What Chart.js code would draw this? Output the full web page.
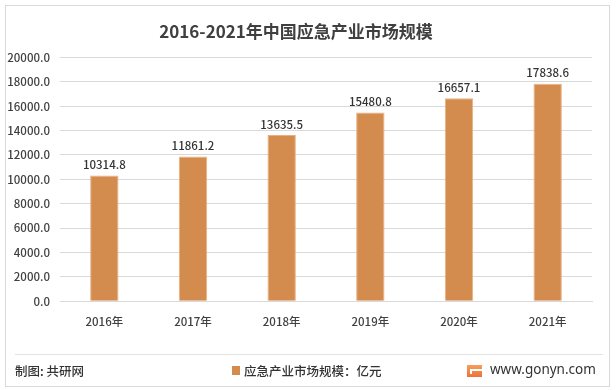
<!DOCTYPE html>
<html lang="zh">
<head>
    <meta charset="UTF-8">
    <title>2016-2021年中国应急产业市场规模</title>
    <script src="https://cdn.jsdelivr.net/npm/chart.js"></script>
    <style>
        html, body { margin: 0; padding: 0; background: #fff; }
        .wrap { width: 616px; height: 390px; position: relative; }
    </style>
</head>
<body>
    <div class="wrap">
        <canvas id="marketChart" width="616" height="390"></canvas>
    </div>

    <script>
        // chart data
        const years = ['2016年', '2017年', '2018年', '2019年', '2020年', '2021年'];
        const marketSize = [10314.8, 11861.2, 13635.5, 15480.8, 16657.1, 17838.6];
        const yTicks = [0, 2000, 4000, 6000, 8000, 10000, 12000, 14000, 16000, 18000, 20000];
        const seriesName = '应急产业市场规模：亿元';
        const chartTitle = '2016-2021年中国应急产业市场规模';

        const barColor = '#D38B4E';
        const cjkFont = '"Noto Sans CJK SC", "Noto Sans", sans-serif';

        // value labels above bars
        const valueLabels = {
            id: 'valueLabels',
            afterDatasetsDraw(chart) {
                const ctx = chart.ctx;
                const meta = chart.getDatasetMeta(0);
                ctx.save();
                ctx.font = '500 11.5px ' + cjkFont;
                ctx.fillStyle = '#333333';
                ctx.textAlign = 'center';
                ctx.textBaseline = 'bottom';
                meta.data.forEach((bar, i) => {
                    ctx.fillText(marketSize[i].toFixed(1), bar.x, bar.y - 5);
                });
                ctx.restore();
            }
        };

        // outer frame, footer line, source, legend and site mark
        const frameAndFooter = {
            id: 'frameAndFooter',
            afterDraw(chart) {
                const ctx = chart.ctx;
                ctx.save();
                ctx.strokeStyle = '#D9D9D9';
                ctx.lineWidth = 1;
                ctx.strokeRect(5.5, 5.5, 604, 381);

                ctx.beginPath();
                ctx.moveTo(15, 354.5);
                ctx.lineTo(603, 354.5);
                ctx.strokeStyle = '#E3E3E3';
                ctx.stroke();

                ctx.fillStyle = '#333333';
                ctx.font = '500 12.5px ' + cjkFont;
                ctx.textBaseline = 'middle';
                ctx.textAlign = 'left';
                ctx.fillText('制图: 共研网', 15, 371);

                ctx.fillStyle = barColor;
                ctx.fillRect(232, 366, 8, 9);
                ctx.fillStyle = '#333333';
                ctx.fillText(seriesName, 244, 371);

                // little logo
                const g = ctx.createLinearGradient(467, 364, 467, 378);
                g.addColorStop(0, '#F7A35C');
                g.addColorStop(1, '#EE6A3A');
                ctx.fillStyle = g;
                ctx.fillRect(467, 365, 15, 12);
                ctx.fillStyle = '#fff';
                ctx.fillRect(470, 369, 12, 2);
                ctx.fillRect(470, 371, 2, 3);

                ctx.fillStyle = '#333';
                ctx.font = '13.5px "Noto Sans", sans-serif';
                ctx.fillText('www.gonyn.com', 490, 370);
                ctx.restore();
            }
        };

        new Chart(document.getElementById('marketChart'), {
            type: 'bar',
            data: {
                labels: years,
                datasets: [{
                    label: seriesName,
                    data: marketSize,
                    backgroundColor: barColor,
                    borderColor: '#E9B07E',
                    borderWidth: 1,
                    barPercentage: 0.32,
                    categoryPercentage: 1
                }]
            },
            options: {
                responsive: false,
                animation: false,
                layout: { padding: { left: 0, right: 24, top: 0, bottom: 55 } },
                plugins: {
                    legend: { display: false },
                    tooltip: { enabled: false },
                    title: {
                        display: true,
                        text: chartTitle,
                        color: '#404040',
                        font: { family: cjkFont, size: 17, weight: 'bold' },
                        padding: { top: 21, bottom: 16 }
                    }
                },
                scales: {
                    x: {
                        grid: { display: false },
                        border: { color: '#D9D9D9' },
                        ticks: {
                            color: '#404040',
                            font: { family: cjkFont, size: 11.5, weight: '500' },
                            padding: 6
                        }
                    },
                    y: {
                        min: 0,
                        max: 20000,
                        afterFit(scale) { scale.width = 60; },
                        afterBuildTicks(scale) { scale.ticks = yTicks.map(v => ({ value: v })); },
                        grid: { color: '#D9D9D9', drawTicks: false },
                        border: { display: false },
                        ticks: {
                            color: '#404040',
                            font: { family: cjkFont, size: 11.5, weight: '500' },
                            padding: 10,
                            callback: v => Number(v).toFixed(1)
                        }
                    }
                }
            },
            plugins: [valueLabels, frameAndFooter]
        });
    </script>
</body>
</html>
